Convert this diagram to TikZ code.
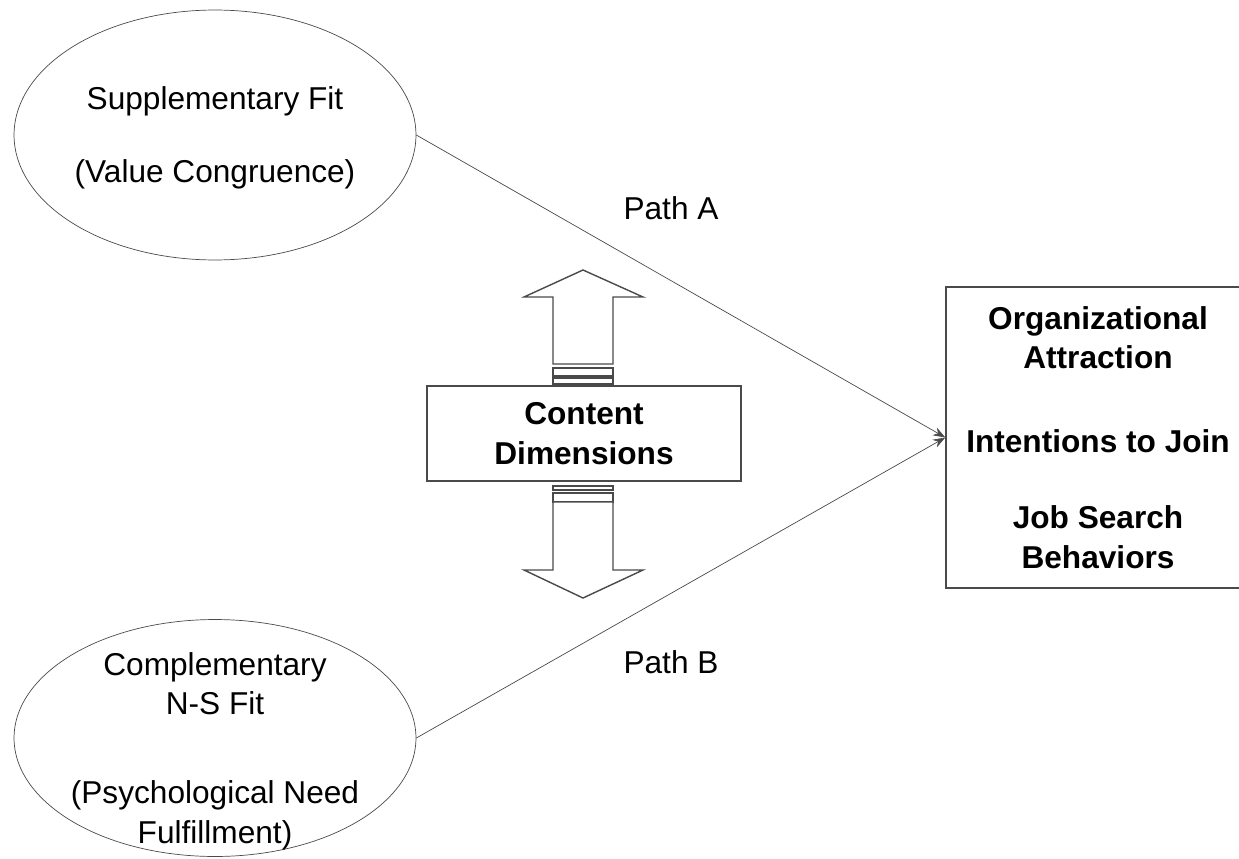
\documentclass[tikz,border=0pt]{standalone}
\usepackage{fontspec}
\setmainfont{Liberation Sans}
\usepackage{tikz}
\usetikzlibrary{shapes.geometric}
\usetikzlibrary{arrows.meta}
\definecolor{lg}{HTML}{4a4a4a}
\tikzstyle{fit} = [draw=lg, ellipse, minimum width=8.04cm, inner sep=0pt]
\tikzstyle{fittext} = [align=center, font=\fontsize{18}{22.5}\selectfont]
\tikzstyle{dimbox} = [draw=lg, thick, minimum width=6.28cm, minimum height=1.9cm, inner sep=0pt, align=center, font=\fontsize{18}{22.5}\selectfont\bfseries]
\tikzstyle{outbox} = [draw=lg, thick, minimum width=6.08cm, minimum height=6.02cm, inner sep=0pt, align=center, font=\fontsize{18}{22.5}\selectfont\bfseries]
\tikzstyle{pathlabel} = [font=\fontsize{18}{22.5}\selectfont]
\tikzstyle{blockarrow} = [draw=lg, thick, fill=white]

\begin{document}
\begin{tikzpicture}[x=0.02cm,y=-0.02cm]
			\useasboundingbox (0,0) rectangle (1239,858);
			\node[fit, minimum height=5cm] (supp) at (215,135) {};
			\node[fittext] (supptext) at (215,138) {Supplementary Fit\\[19pt](Value Congruence)};
			\node[fit, minimum height=4.74cm] (comp) at (215,738) {};
			\node[fittext] (comptext) at (215,751) {Complementary\\N-S Fit\\[28pt](Psychological Need\\Fulfillment)};
			\node[outbox] (outc) at (1098,437.5) {Organizational\\Attraction\\[25pt]Intentions to Join\\[21pt]Job Search\\Behaviors};
			\node[dimbox] (dims) at (584,433.5) {Content\\Dimensions};
			\node[pathlabel] (pa) at (671,208) {Path A};
			\node[pathlabel] (pb) at (671,662) {Path B};
			\draw[lg,-{Stealth[length=7pt,width=5pt]}] (supp.east) -- (outc.west);
			\draw[lg,-{Stealth[length=7pt,width=5pt]}] (comp.east) -- (outc.west);
			% up arrow
			\draw[blockarrow] (553,364)--(553,297)--(524,297)--(583,270)--(643,297)--(613,297)--(613,364)--cycle;
			\draw[blockarrow] (553,368) rectangle (613,376);
			\draw[blockarrow] (553,378) rectangle (613,384);
			% down arrow
			\draw[blockarrow] (553,486) rectangle (613,490);
			\draw[blockarrow] (553,493) rectangle (613,502);
			\draw[blockarrow] (553,502)--(553,570)--(524,570)--(583,598)--(643,570)--(613,570)--(613,502)--cycle;
		\end{tikzpicture}
\end{document}
